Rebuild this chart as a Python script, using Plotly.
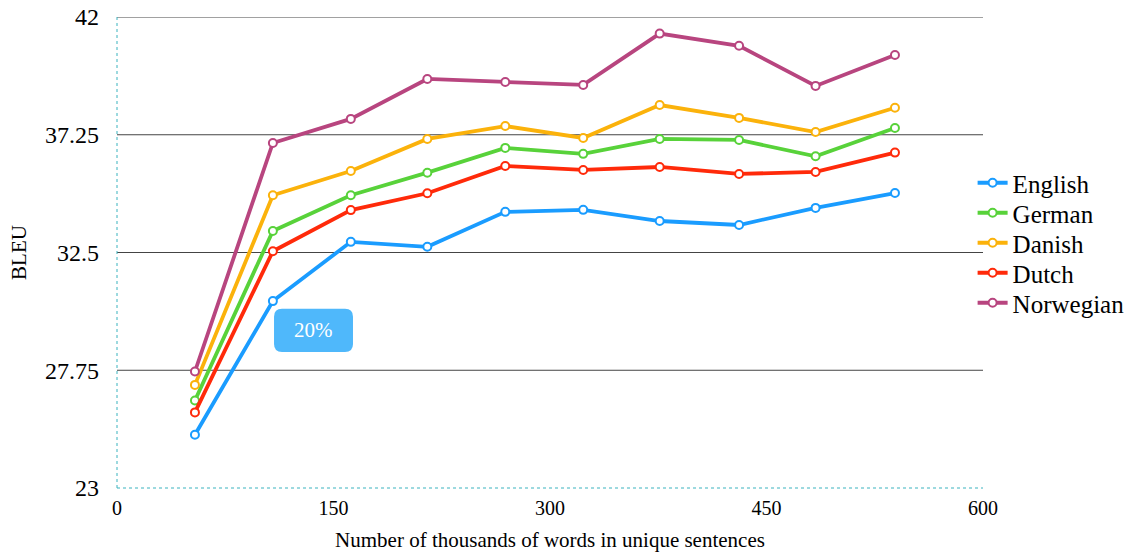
import plotly.graph_objects as go

x_vals = [54, 108, 162, 215, 269, 323, 376, 431, 484, 539]

english = [25.15, 30.54, 32.93, 32.73, 34.14, 34.22, 33.77, 33.61, 34.30, 34.90]
german = [26.53, 33.37, 34.81, 35.72, 36.72, 36.48, 37.08, 37.04, 36.38, 37.52]
danish = [27.16, 34.81, 35.79, 37.08, 37.60, 37.12, 38.45, 37.93, 37.36, 38.34]
dutch = [26.05, 32.55, 34.21, 34.89, 35.99, 35.83, 35.95, 35.67, 35.75, 36.53]
norwegian = [27.70, 36.92, 37.89, 39.50, 39.38, 39.26, 41.33, 40.84, 39.22, 40.47]

series_names = ["English", "German", "Danish", "Dutch", "Norwegian"]
series_values = [english, german, danish, dutch, norwegian]
colors = ["#1a9cff", "#58d23a", "#fbb20b", "#ff2a0a", "#b8457f"]

y_ticks = [23, 27.75, 32.5, 37.25, 42]
x_ticks = [0, 150, 300, 450, 600]

FONT = "Liberation Serif"

L, T, PW, PH = 117, 17, 866, 471
W, H = 1144, 552

fig = go.Figure()
legend_ids = ["legend", "legend2", "legend3", "legend4", "legend5"]
for name, vals, c, lg in zip(series_names, series_values, colors, legend_ids):
    fig.add_trace(go.Scatter(
        x=x_vals, y=vals, name=name, mode="lines+markers",
        line=dict(color=c, width=3.8),
        marker=dict(symbol="circle", size=8, color="white",
                    line=dict(color=c, width=2)),
        legend=lg,
    ))

# gridlines (dark) at the non-bottom ticks
for yv in y_ticks[1:]:
    fig.add_shape(type="line", xref="paper", yref="y", x0=0, x1=1, y0=yv, y1=yv,
                  line=dict(color="#444444", width=1), layer="below")

# dotted teal axis lines (left and bottom)
fig.add_shape(type="line", xref="paper", yref="paper", x0=0, x1=0, y0=0, y1=1,
              line=dict(color="#3ab3bf", width=1, dash="dot"), layer="below")
fig.add_shape(type="line", xref="paper", yref="paper", x0=0, x1=1, y0=0, y1=0,
              line=dict(color="#3ab3bf", width=1, dash="dot"), layer="below")

# rounded label box "20%"
bx0, bx1, by0, by1 = 108.8, 163.5, 28.49, 30.23
rx, ry = 5.5, 0.32
path = (f"M {bx0+rx},{by0} L {bx1-rx},{by0} Q {bx1},{by0} {bx1},{by0+ry} "
        f"L {bx1},{by1-ry} Q {bx1},{by1} {bx1-rx},{by1} "
        f"L {bx0+rx},{by1} Q {bx0},{by1} {bx0},{by1-ry} "
        f"L {bx0},{by0+ry} Q {bx0},{by0} {bx0+rx},{by0} Z")
fig.add_shape(type="path", xref="x", yref="y", path=path,
              fillcolor="#4fb8fb", line=dict(width=0))
fig.add_annotation(x=(bx0+bx1)/2, y=(by0+by1)/2, xref="x", yref="y",
                   text="20%", showarrow=False,
                   font=dict(family=FONT, size=21, color="white"))

# legends stacked 30px apart, centred at 243px
legend_layout = {}
for i, lg in enumerate(legend_ids):
    py = 183 + 30 * i
    ypaper = (T + PH - py) / PH
    legend_layout[lg] = dict(x=0.988, xanchor="left", y=ypaper, yanchor="middle",
                             bgcolor="rgba(0,0,0,0)",
                             font=dict(family=FONT, size=25),
                             itemwidth=30)

fig.update_layout(
    width=W, height=H,
    margin=dict(l=L, r=W - L - PW, t=T, b=H - T - PH, autoexpand=False),
    paper_bgcolor="white", plot_bgcolor="white",
    font=dict(family=FONT, color="black"),
    showlegend=True,
    **legend_layout,
)

fig.update_xaxes(
    range=[0, 600], tickvals=x_ticks, ticktext=[str(v) for v in x_ticks],
    showgrid=False, zeroline=False, showline=False, automargin=False,
    tickfont=dict(family=FONT, size=20), ticks="", ticklabelstandoff=6,
    ticklabeloverflow="allow",
    title=dict(text="Number of thousands of words in unique sentences",
               font=dict(family=FONT, size=21), standoff=15),
)
fig.update_yaxes(
    range=[23, 42], tickvals=y_ticks, ticktext=["23", "27.75", "32.5", "37.25", "42"],
    showgrid=False, zeroline=False, showline=False, automargin=False,
    tickfont=dict(family=FONT, size=24), ticks="", ticklabelstandoff=17,
    ticklabeloverflow="allow",
    title=dict(text="BLEU", font=dict(family=FONT, size=21), standoff=12),
)

fig.write_html("out.html", config={"displayModeBar": False},
               post_script="document.body.style.margin='0';")
